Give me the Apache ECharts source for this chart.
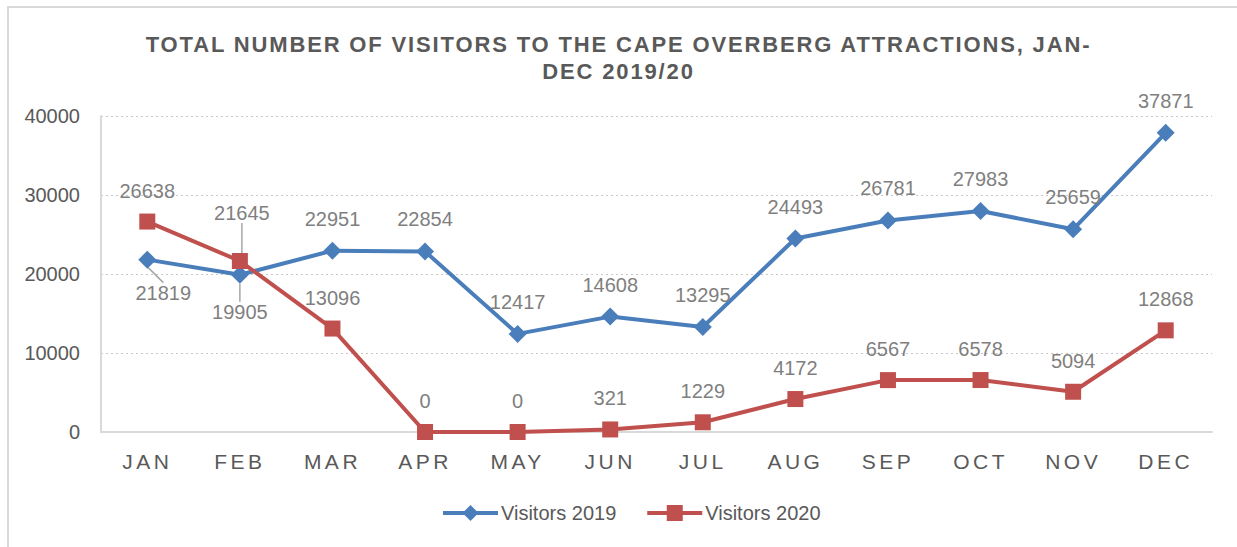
<!DOCTYPE html>
<html>
<head>
<meta charset="utf-8">
<script src="https://cdn.jsdelivr.net/npm/echarts@6/dist/echarts.min.js"></script>
<style>
  html, body { margin: 0; padding: 0; background: #fff; }
  #chart { width: 1237px; height: 547px; }
  /* letter spacing for the title and month labels (svg renderer) */
  #chart text[style*="22px"] { letter-spacing: 1.85px; }
  #chart text[style*="21px"] { letter-spacing: 3.5px; }
</style>
</head>
<body>
<div id="chart"></div>
<script>
const months = ['JAN', 'FEB', 'MAR', 'APR', 'MAY', 'JUN', 'JUL', 'AUG', 'SEP', 'OCT', 'NOV', 'DEC'];
const visitors2019 = [21819, 19905, 22951, 22854, 12417, 14608, 13295, 24493, 26781, 27983, 25659, 37871];
const visitors2020 = [26638, 21645, 13096, 0, 0, 321, 1229, 4172, 6567, 6578, 5094, 12868];
const yTicks = [0, 10000, 20000, 30000, 40000];

const font = "'Liberation Sans', Arial, sans-serif";

// labels that are moved off their point and get a leader line
const moved = {
  '0-0': { dx: 16, dy: 1 },
  '0-1': { dx: 0, dy: 5 },
  '1-1': { dx: 2, dy: -17 }
};
const below = { '0-0': true, '0-1': true };

function withLabels(values, seriesIndex) {
  return values.map((v, i) => {
    const key = seriesIndex + '-' + i;
    if (!moved[key]) return v;
    return {
      value: v,
      label: { position: below[key] ? 'bottom' : 'top' },
      labelLine: { show: true, lineStyle: { color: '#a6a6a6', width: 1.5 } }
    };
  });
}

const chart = echarts.init(document.getElementById('chart'), null, { renderer: 'svg' });

const lineLabel = {
  show: true,
  position: 'top',
  distance: 13,
  color: '#7f7f7f',
  fontFamily: font,
  fontSize: 20
};

chart.setOption({
  animation: false,
  title: {
    text: 'TOTAL NUMBER OF VISITORS TO THE CAPE OVERBERG ATTRACTIONS, JAN-\nDEC 2019/20',
    left: 'center',
    top: 26,
    padding: [5, 0, 5, 9],
    textStyle: {
      color: '#595959',
      fontFamily: font,
      fontWeight: 'bold',
      fontSize: 22,
      lineHeight: 27
    }
  },
  legend: {
    bottom: 24,
    left: 441,
    padding: 0,
    itemWidth: 55,
    itemHeight: 20,
    itemGap: 29,
    lineStyle: { width: 4 },
    textStyle: { color: '#595959', fontFamily: font, fontSize: 20, padding: [0, 0, 0, -2] },
    data: ['Visitors 2019', 'Visitors 2020']
  },
  grid: { left: 101, right: 25, top: 116, bottom: 115 },
  xAxis: {
    type: 'category',
    data: months,
    axisLine: { lineStyle: { color: '#d9d9d9', width: 2 } },
    axisTick: { show: false },
    axisLabel: { color: '#595959', fontFamily: font, fontSize: 21, margin: 19 }
  },
  yAxis: {
    type: 'value',
    min: yTicks[0],
    max: yTicks[yTicks.length - 1],
    interval: yTicks[1] - yTicks[0],
    axisLine: { show: true, lineStyle: { color: '#d9d9d9', width: 2 } },
    axisTick: { show: false },
    axisLabel: {
      color: '#595959', fontFamily: font, fontSize: 20, margin: 21,
      formatter: v => String(v)
    },
    splitLine: { lineStyle: { color: '#c8c8c8', type: [2, 3], width: 1.2 } }
  },
  series: [
    {
      name: 'Visitors 2019',
      type: 'line',
      data: withLabels(visitors2019, 0),
      symbol: 'diamond',
      symbolSize: 18,
      lineStyle: { width: 4, color: '#4a7ebb' },
      itemStyle: { color: '#4a7ebb' },
      label: lineLabel
    },
    {
      name: 'Visitors 2020',
      type: 'line',
      data: withLabels(visitors2020, 1),
      symbol: 'rect',
      symbolSize: 16,
      lineStyle: { width: 4, color: '#c0504d' },
      itemStyle: { color: '#c0504d' },
      label: lineLabel
    }
  ],
  labelLayout: function (params) {
    const m = moved[params.seriesIndex + '-' + params.dataIndex];
    return m ? { dx: m.dx, dy: m.dy } : {};
  },
  graphic: [{
    type: 'rect',
    shape: { x: 8, y: 7, width: 1240, height: 560 },
    style: { fill: 'none', stroke: '#d9d9d9', lineWidth: 2 },
    silent: true
  }]
});
</script>
</body>
</html>
